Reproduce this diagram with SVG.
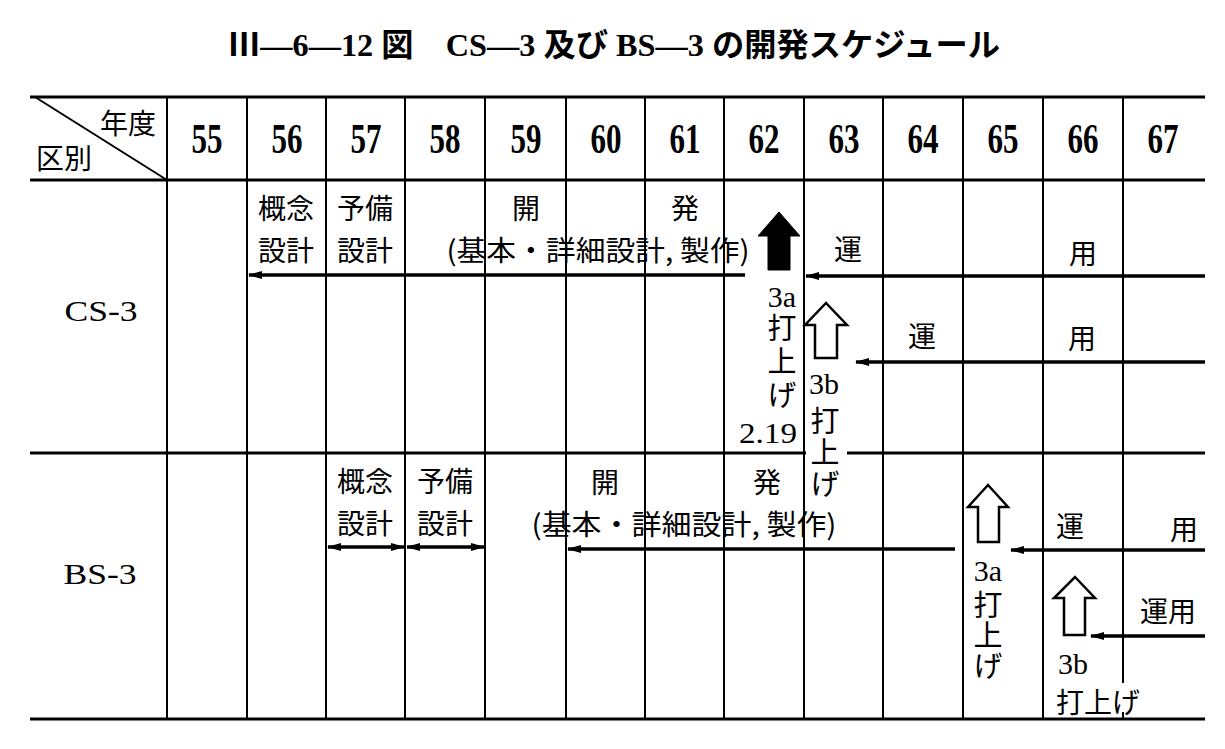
<svg xmlns="http://www.w3.org/2000/svg" width="1225" height="749" viewBox="0 0 1225 749">
<style>
.bg{fill:#fff}
.g{stroke:#000;stroke-width:2;fill:none}
.h{stroke:#000;stroke-width:3;fill:none}
.a{stroke:#000;stroke-width:3.5;fill:none}
.jp{font-family:"Noto Sans CJK JP",sans-serif;font-size:28px;fill:#000;text-anchor:middle;dominant-baseline:central}
.vt{font-family:"Noto Sans CJK JP",sans-serif;font-size:29px;fill:#000;text-anchor:middle;dominant-baseline:central;writing-mode:vertical-rl}
.num{font-family:"Liberation Serif","Noto Sans CJK JP",serif;font-size:30px;fill:#000;text-anchor:middle;dominant-baseline:central}
.hd{font-family:"Liberation Serif",serif;font-size:42px;font-weight:bold;fill:#000;text-anchor:middle;dominant-baseline:central}
.ttl{font-family:"Liberation Serif","Noto Sans CJK JP",serif;font-size:32px;font-weight:bold;fill:#000;dominant-baseline:central}
.hol{fill:#fff;stroke:#000;stroke-width:2.5;stroke-linejoin:miter}
.sol{fill:#000;stroke:#000;stroke-width:1}
</style>
<defs>
<marker id="ah" viewBox="0 0 14 8" refX="13" refY="4" markerWidth="14" markerHeight="8" markerUnits="userSpaceOnUse" orient="auto-start-reverse">
<path d="M0,0 L14,4 L0,8 z" fill="#000"/>
</marker>
</defs>
<rect class="bg" x="0" y="0" width="1225" height="749"/>

<g id="title">
<text class="ttl" x="228" y="45" textLength="772" lengthAdjust="spacingAndGlyphs">Ⅲ—6—12 図　CS—3 及び BS—3 の開発スケジュール</text>
</g>

<g id="table-grid">
<line class="h" x1="30" y1="97" x2="1205" y2="97"/>
<line class="h" x1="30" y1="180" x2="1205" y2="180"/>
<line class="h" x1="30" y1="453" x2="806" y2="453"/>
<line class="h" x1="847" y1="453" x2="1205" y2="453"/>
<line class="h" x1="30" y1="719" x2="1205" y2="719"/>
<line class="g" x1="35" y1="97" x2="167" y2="180"/>
<line class="g" x1="167" y1="97" x2="167" y2="719"/>
<line class="g" x1="247" y1="97" x2="247" y2="719"/>
<line class="g" x1="326" y1="97" x2="326" y2="719"/>
<line class="g" x1="405" y1="97" x2="405" y2="719"/>
<line class="g" x1="485" y1="97" x2="485" y2="719"/>
<line class="g" x1="566" y1="97" x2="566" y2="719"/>
<line class="g" x1="645" y1="97" x2="645" y2="719"/>
<line class="g" x1="724" y1="97" x2="724" y2="719"/>
<line class="g" x1="804" y1="97" x2="804" y2="719"/>
<line class="g" x1="883" y1="97" x2="883" y2="719"/>
<line class="g" x1="963" y1="97" x2="963" y2="719"/>
<line class="g" x1="1043" y1="97" x2="1043" y2="719"/>
<line class="g" x1="1123" y1="97" x2="1123" y2="683"/>
<line class="g" x1="1123" y1="712" x2="1123" y2="719"/>
</g>

<g id="header">
<text class="jp" x="128" y="122">年度</text>
<text class="jp" x="64" y="157">区別</text>
<text class="hd" x="207" y="139" textLength="31" lengthAdjust="spacingAndGlyphs">55</text>
<text class="hd" x="287" y="139" textLength="31" lengthAdjust="spacingAndGlyphs">56</text>
<text class="hd" x="366" y="139" textLength="31" lengthAdjust="spacingAndGlyphs">57</text>
<text class="hd" x="445" y="139" textLength="31" lengthAdjust="spacingAndGlyphs">58</text>
<text class="hd" x="526" y="139" textLength="31" lengthAdjust="spacingAndGlyphs">59</text>
<text class="hd" x="606" y="139" textLength="31" lengthAdjust="spacingAndGlyphs">60</text>
<text class="hd" x="685" y="139" textLength="31" lengthAdjust="spacingAndGlyphs">61</text>
<text class="hd" x="764" y="139" textLength="31" lengthAdjust="spacingAndGlyphs">62</text>
<text class="hd" x="844" y="139" textLength="31" lengthAdjust="spacingAndGlyphs">63</text>
<text class="hd" x="923" y="139" textLength="31" lengthAdjust="spacingAndGlyphs">64</text>
<text class="hd" x="1003" y="139" textLength="31" lengthAdjust="spacingAndGlyphs">65</text>
<text class="hd" x="1083" y="139" textLength="31" lengthAdjust="spacingAndGlyphs">66</text>
<text class="hd" x="1163" y="139" textLength="31" lengthAdjust="spacingAndGlyphs">67</text>
</g>

<g id="cs3">
<text class="num" x="101" y="310" font-size="40" textLength="73" lengthAdjust="spacingAndGlyphs">CS-3</text>
<text class="jp" x="286" y="207">概念</text>
<text class="jp" x="286" y="248.5">設計</text>
<text class="jp" x="365" y="207">予備</text>
<text class="jp" x="365" y="248.5">設計</text>
<text class="jp" x="526" y="207">開</text>
<text class="jp" x="685" y="207">発</text>
<text class="jp" x="598" y="248.5" textLength="303" lengthAdjust="spacingAndGlyphs">(基本・詳細設計, 製作)</text>
<text class="jp" x="848" y="248">運</text>
<text class="jp" x="1083" y="252">用</text>
<text class="num" x="782" y="296">3a</text>
<text class="vt" x="782" y="361" textLength="96" lengthAdjust="spacing">打上げ</text>
<text class="num" x="797" y="432" style="text-anchor:end" textLength="58" lengthAdjust="spacingAndGlyphs">2.19</text>
<text class="num" x="824" y="383">3b</text>
<text class="vt" x="825" y="452" textLength="92" lengthAdjust="spacing">打上げ</text>
<text class="jp" x="922" y="335">運</text>
<text class="jp" x="1082" y="337">用</text>
<path id="cs3-3a-launch" class="sol" d="M779,212 L800,236 L790,236 L790,270 L768,270 L768,236 L758,236 Z"/>
<path id="cs3-3b-launch" class="hol" d="M826,303 L847,325 L837,325 L837,358 L815,358 L815,325 L805,325 Z"/>
</g>

<g id="bs3">
<text class="num" x="100" y="573" font-size="40" textLength="73" lengthAdjust="spacingAndGlyphs">BS-3</text>
<text class="jp" x="365" y="480">概念</text>
<text class="jp" x="365" y="521.5">設計</text>
<text class="jp" x="445" y="480">予備</text>
<text class="jp" x="445" y="521.5">設計</text>
<text class="jp" x="605" y="481">開</text>
<text class="jp" x="767" y="481">発</text>
<text class="jp" x="684" y="522.5" textLength="305" lengthAdjust="spacingAndGlyphs">(基本・詳細設計, 製作)</text>
<text class="num" x="988" y="570">3a</text>
<text class="vt" x="988" y="635" textLength="90" lengthAdjust="spacing">打上げ</text>
<text class="jp" x="1070" y="525">運</text>
<text class="jp" x="1184" y="528">用</text>
<text class="jp" x="1168" y="610">運用</text>
<text class="num" x="1073" y="663">3b</text>
<text class="jp" x="1098" y="701">打上げ</text>
<path id="bs3-3a-launch" class="hol" d="M988,485 L1008,507 L999,507 L999,542 L978,542 L978,507 L968,507 Z"/>
<path id="bs3-3b-launch" class="hol" d="M1075,577 L1095,598 L1085,598 L1085,635 L1064,635 L1064,598 L1054,598 Z"/>
</g>

<g id="connectors">
<line class="a" x1="745" y1="275" x2="249" y2="275" marker-end="url(#ah)"/>
<line class="a" x1="1205" y1="276" x2="806" y2="276" marker-end="url(#ah)"/>
<line class="a" x1="1205" y1="362" x2="856" y2="362" marker-end="url(#ah)"/>
<line class="a" x1="328" y1="547" x2="404" y2="547" marker-start="url(#ah)" marker-end="url(#ah)"/>
<line class="a" x1="407" y1="547" x2="484" y2="547" marker-start="url(#ah)" marker-end="url(#ah)"/>
<line class="a" x1="955" y1="549" x2="568" y2="549" marker-end="url(#ah)"/>
<line class="a" x1="1205" y1="550" x2="1011" y2="550" marker-end="url(#ah)"/>
<line class="a" x1="1205" y1="636" x2="1091" y2="636" marker-end="url(#ah)"/>
</g>
</svg>
